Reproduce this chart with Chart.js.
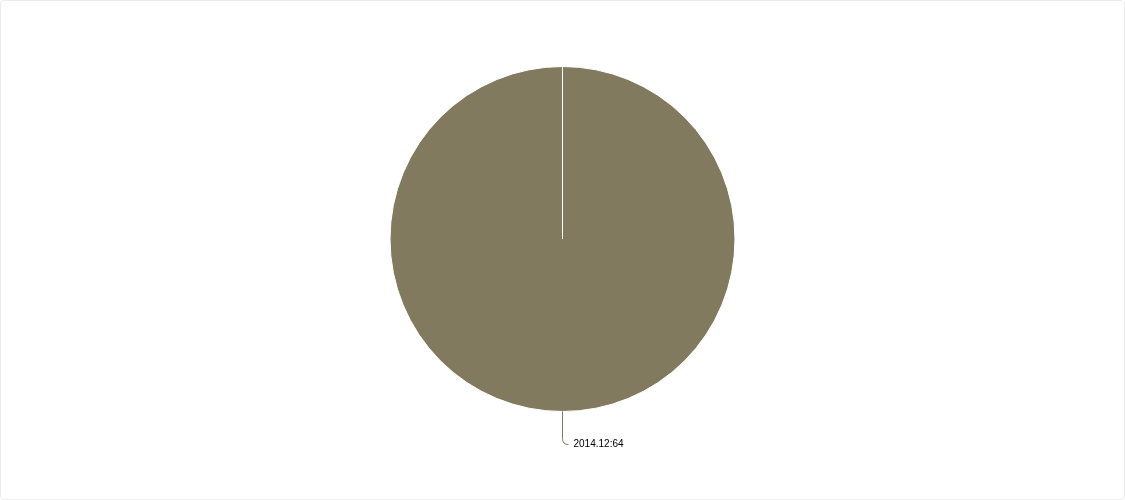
<!DOCTYPE html>
<html lang="en">
<head>
    <meta charset="UTF-8">
    <title>Pie</title>
    <script src="https://cdn.jsdelivr.net/npm/chart.js"></script>
    <style>
        html, body {
            margin: 0;
            padding: 0;
            background: #ffffff;
        }
        /* framed panel around the chart */
        .panel {
            position: absolute;
            left: 0;
            top: 0;
            width: 1125px;
            height: 500px;
            box-sizing: border-box;
            border: 1px solid #ececec;
            border-radius: 4px;
        }
        .panel canvas {
            display: block;
        }
    </style>
</head>
<body>
    <div class="panel">
        <canvas id="pie" width="1123" height="498"></canvas>
    </div>

    <script>
        const categories = ['2014.12'];
        const values = [64];
        const colors = ['#827a5e'];

        // leader line + "label:value" text under each slice
        const leaderLabels = {
            id: 'leaderLabels',
            afterDatasetsDraw(chart) {
                const ctx = chart.ctx;
                const meta = chart.getDatasetMeta(0);
                const total = values.reduce((a, b) => a + b, 0);
                meta.data.forEach((arc, i) => {
                    // full-circle slice: anchor at the bottom of the pie
                    let mid = (arc.startAngle + arc.endAngle) / 2;
                    if (values[i] === total) mid = Math.PI / 2;
                    const r = arc.outerRadius;
                    const x0 = arc.x + Math.cos(mid) * r;
                    const y0 = arc.y + Math.sin(mid) * r;
                    const yEnd = y0 + 33;
                    ctx.save();
                    ctx.strokeStyle = colors[i];
                    ctx.lineWidth = 1;
                    ctx.beginPath();
                    ctx.moveTo(x0, y0);
                    ctx.lineTo(x0, yEnd - 6);
                    ctx.quadraticCurveTo(x0, yEnd, x0 + 6, yEnd);
                    ctx.stroke();
                    ctx.fillStyle = '#000000';
                    ctx.font = '10px "Liberation Sans", Arial, sans-serif';
                    ctx.textBaseline = 'middle';
                    ctx.textAlign = 'left';
                    ctx.fillText(categories[i] + ':' + values[i], x0 + 11, yEnd);
                    ctx.restore();
                });
            }
        };

        const ctx = document.getElementById('pie').getContext('2d');
        new Chart(ctx, {
            type: 'pie',
            data: {
                labels: categories,
                datasets: [{
                    data: values,
                    backgroundColor: colors,
                    borderColor: '#ffffff',
                    borderWidth: 1
                }]
            },
            options: {
                responsive: false,
                animation: false,
                layout: {
                    padding: { top: 65, bottom: 87, left: 0, right: 0 }
                },
                plugins: {
                    legend: { display: false },
                    tooltip: { enabled: false }
                }
            },
            plugins: [leaderLabels]
        });
    </script>
</body>
</html>
